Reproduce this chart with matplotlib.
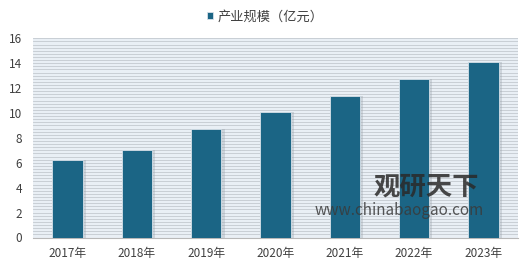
import numpy as np
import matplotlib
matplotlib.use("Agg")
from matplotlib import pyplot as plt

plt.rcParams['font.family'] = ['Noto Sans CJK SC', 'DejaVu Sans']

# data
years = ['2017年', '2018年', '2019年', '2020年', '2021年', '2022年', '2023年']
scale = [6.2, 7.0, 8.7, 10.1, 11.4, 12.7, 14.1]
series_name = '产业规模（亿元）'

fig = plt.figure(figsize=(5.2, 2.63), dpi=100)
ax = fig.add_axes([33/520, 1 - 237.5/263, 485/520, 199.2/263])

x = np.arange(len(years))
# soft shadow behind the bars
ax.bar(x + 0.03, scale, width=0.47, color='#9aa3ab', alpha=0.35, zorder=2)
ax.bar(x, scale, width=0.44, color='#1b6585', edgecolor='#d8e2ea',
       linewidth=0.6, zorder=3, label=series_name)

ax.set_facecolor('#e9eff5')
ax.set_ylim(0, 16)
ax.set_xlim(-0.5, 6.5)
ax.set_yticks(range(0, 17, 2))
ax.set_xticks(x)
ax.set_xticklabels(years)
# striped background: thin gray line every 0.25
for yv in np.arange(0.25, 16.01, 0.25):
    ax.axhline(yv, color='#c3c9cf', linewidth=0.6, zorder=1)

for s in ['top', 'right', 'left']:
    ax.spines[s].set_visible(False)
ax.spines['bottom'].set_color('#b8b8b8')
ax.tick_params(axis='both', length=0, colors='#404040', labelsize=8.5)
ax.tick_params(axis='x', pad=7)
ax.tick_params(axis='y', pad=8)

fig.legend(loc='center', bbox_to_anchor=(0.51, 1 - 17/263), frameon=False,
           fontsize=9.5, handlelength=0.45, handleheight=0.45, handletextpad=0.4,
           labelcolor='#404040')

# watermark
ax.text(0.81, 0.255, '观研天下', transform=ax.transAxes, fontsize=19,
        fontweight='bold', color='#2a2a2a', alpha=0.85, ha='center', va='center', zorder=5)
ax.text(0.755, 0.135, 'www.chinabaogao.com', transform=ax.transAxes, fontsize=11,
        color='#3a3a3a', alpha=0.85, ha='center', va='center', zorder=5)

fig.savefig('out.png', dpi=100)
